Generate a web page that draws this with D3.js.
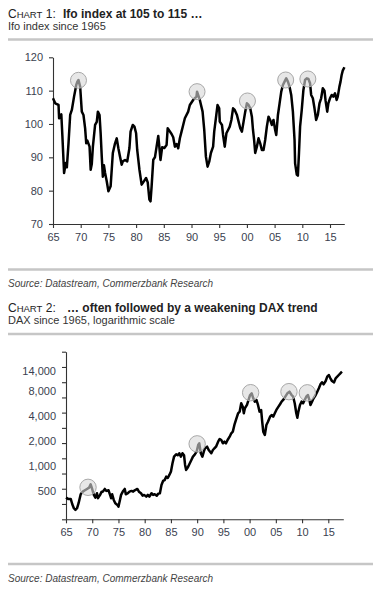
<!DOCTYPE html>
<html>
<head>
<meta charset="utf-8">
<script src="https://cdn.jsdelivr.net/npm/d3@7"></script>
<style>
  html, body { margin: 0; padding: 0; background: #fff; }
  svg { display: block; font-family: "Liberation Sans", Arial, sans-serif; }
</style>
</head>
<body>
<svg id="chart" width="379" height="600"></svg>
<script>
// ---------- DATA ----------
const ifoYears = [1965.0,1965.4,1966.0,1966.1,1966.5,1966.7,1967.0,1967.3,1967.5,1967.8,1968.1,1968.4,1968.8,1969.2,1969.4,1969.6,1969.9,1970.2,1970.5,1970.8,1971.0,1971.2,1971.6,1971.8,1972.0,1972.2,1972.6,1972.9,1973.1,1973.4,1973.6,1973.8,1974.0,1974.2,1974.4,1974.7,1975.0,1975.4,1975.8,1976.2,1976.5,1976.8,1977.1,1977.4,1977.6,1978.0,1978.4,1978.8,1979.0,1979.4,1979.7,1980.0,1980.2,1980.6,1981.0,1981.4,1981.8,1982.1,1982.4,1982.6,1982.8,1983.1,1983.4,1983.7,1984.0,1984.2,1984.4,1984.7,1985.1,1985.5,1985.7,1986.0,1986.4,1986.7,1987.0,1987.3,1987.6,1987.9,1988.2,1988.5,1988.8,1989.4,1989.7,1990.3,1990.9,1991.0,1991.5,1992.0,1992.3,1992.6,1992.9,1993.2,1993.5,1993.9,1994.1,1994.4,1994.7,1995.0,1995.1,1995.5,1995.7,1996.0,1996.3,1996.6,1996.9,1997.2,1997.5,1997.8,1998.2,1998.5,1998.8,1999.1,1999.4,1999.7,2000.0,2000.3,2000.6,2000.9,2001.1,2001.3,2001.5,2001.8,2002.1,2002.4,2002.7,2003.0,2003.3,2003.6,2003.9,2004.2,2004.5,2004.8,2005.1,2005.3,2005.6,2005.9,2006.2,2006.5,2006.8,2007.1,2007.4,2007.7,2008.0,2008.3,2008.6,2008.7,2009.0,2009.2,2009.4,2009.6,2009.9,2010.2,2010.5,2010.8,2011.1,2011.4,2011.6,2011.9,2012.2,2012.5,2012.8,2013.1,2013.4,2013.7,2014.0,2014.2,2014.5,2014.7,2015.0,2015.3,2015.6,2015.9,2016.2,2016.4,2016.7,2016.9,2017.1,2017.3,2017.6];
const ifoValues = [107.7,106.2,105.7,101.7,102.9,96.2,85.3,88.3,87.0,94.2,102.7,104.2,108.2,111.7,112.7,113.2,111.2,103.7,102.7,98.7,94.2,95.0,93.2,86.3,88.0,93.2,99.7,100.6,103.7,102.7,97.2,90.2,84.2,87.6,85.3,82.8,79.8,81.3,91.3,94.2,95.7,92.7,90.2,87.8,88.8,89.2,88.8,92.8,97.7,99.7,99.2,97.2,92.2,86.3,81.8,82.8,83.8,82.5,77.3,76.8,81.3,89.3,90.0,93.2,96.4,93.0,89.2,93.0,92.8,93.7,98.7,98.0,97.0,96.0,93.2,94.0,92.7,95.7,97.7,99.7,101.7,103.7,105.7,107.2,108.2,109.7,107.2,103.7,98.2,90.2,87.2,88.7,91.3,93.2,97.7,101.7,105.7,104.7,100.7,99.7,96.7,93.2,97.2,98.2,99.2,101.2,104.7,104.2,102.7,100.7,98.7,97.7,100.7,103.7,106.2,105.7,104.7,102.2,98.2,95.2,91.3,93.2,95.7,94.2,92.2,92.2,95.2,99.2,102.2,101.2,99.7,101.2,98.2,96.7,102.7,106.2,109.7,111.7,112.7,113.7,112.7,111.2,108.7,103.7,95.2,88.2,84.8,84.5,91.3,99.2,104.2,110.2,113.2,113.7,113.5,112.2,108.7,107.7,104.7,101.2,102.7,106.2,107.7,110.7,110.0,107.0,103.7,106.2,107.7,108.7,108.2,109.2,107.2,108.2,111.2,112.7,114.7,116.0,117.0];
const ifoPeakYears = [1969.6, 1991.0, 2000.1, 2007.0, 2011.0];
const ifoPeakValues = [113.1, 109.7, 106.9, 113.2, 113.5];
const ifoYTicks = [70, 80, 90, 100, 110, 120];

const daxYears = [1965.0,1965.4,1965.9,1966.2,1966.5,1966.8,1967.1,1967.4,1967.8,1968.2,1968.6,1969.0,1969.4,1969.7,1970.0,1970.3,1970.6,1970.9,1971.1,1971.5,1971.8,1972.0,1972.4,1972.7,1973.1,1973.4,1973.6,1973.8,1974.1,1974.4,1974.8,1975.0,1975.2,1975.5,1975.9,1976.2,1976.4,1976.8,1977.1,1977.5,1977.8,1978.1,1978.6,1978.9,1979.3,1979.6,1979.9,1980.3,1980.6,1980.9,1981.3,1981.6,1981.9,1982.3,1982.6,1982.9,1983.2,1983.5,1983.8,1984.1,1984.4,1984.7,1985.0,1985.3,1985.6,1986.0,1986.3,1986.6,1986.9,1987.2,1987.5,1987.7,1987.9,1988.2,1988.6,1988.9,1989.2,1989.5,1989.9,1990.2,1990.4,1990.7,1991.0,1991.3,1991.5,1991.9,1992.2,1992.7,1993.0,1993.3,1993.6,1994.0,1994.3,1994.6,1994.9,1995.2,1995.5,1995.8,1996.2,1996.5,1996.8,1997.1,1997.4,1997.8,1998.1,1998.4,1998.7,1998.9,1999.1,1999.5,1999.8,2000.1,2000.4,2000.7,2001.0,2001.3,2001.6,2001.9,2002.2,2002.4,2002.6,2002.9,2003.2,2003.5,2003.9,2004.2,2004.5,2004.8,2005.1,2005.5,2005.8,2006.1,2006.4,2006.8,2007.2,2007.6,2008.0,2008.3,2008.6,2008.9,2009.1,2009.3,2009.6,2009.9,2010.2,2010.5,2010.8,2011.1,2011.4,2011.6,2011.9,2012.2,2012.6,2012.9,2013.2,2013.5,2013.8,2014.1,2014.5,2014.8,2015.1,2015.4,2015.7,2016.1,2016.4,2016.7,2017.0,2017.3,2017.6];
const daxValues = [412,397,397,342,306,292,306,352,452,486,505,524,543,597,520,444,412,465,405,444,486,486,524,496,505,444,405,452,386,352,336,320,365,444,496,524,452,465,486,496,486,505,524,486,465,435,444,423,444,423,465,444,452,435,460,465,586,655,670,738,710,774,848,1072,1288,1376,1340,1416,1288,1416,1340,1022,890,950,1072,1175,1288,1351,1480,1784,1868,1416,1288,1500,1628,1700,1550,1416,1550,1628,1700,1956,2108,2050,1868,1956,1868,2050,2248,2470,2585,3115,3580,4310,4510,5696,5180,4310,4955,5435,6245,7175,7520,6540,5955,6245,5435,4510,4700,3410,2585,2357,3115,3410,3920,4110,3920,4310,4730,5180,5540,5955,6245,6845,7520,7870,7175,6845,5696,4310,3815,4510,5435,5955,5696,6245,6845,7175,6245,5435,5955,6540,7175,7870,8640,9650,10200,9650,10590,11940,12520,11420,10590,10200,11420,11940,12520,13130,13740];
const daxPeakYears = [1969.2, 1990.0, 2000.2, 2007.5, 2011.0];
const daxPeakValues = [548, 1840, 7650, 7870, 7620];
const daxLabelValues = [500, 1000, 2000, 4000, 8000, 14000];
const daxTickMarks = [225, 345, 527, 805, 1230, 1880, 2870, 4390, 6700, 10240, 15650, 23950];

const xTickYears = [1965, 1970, 1975, 1980, 1985, 1990, 1995, 2000, 2005, 2010, 2015];

// ---------- DRAW ----------
const svg = d3.select("#chart");
const fmtYear = d => String(d % 100).padStart(2, "0");
const tickColor = "#3b3f50";

function header(y0, num, bold, sub, boldX) {
  const t = svg.append("text").attr("x", 8).attr("y", y0).attr("fill", "#222").attr("font-size", 12);
  t.append("tspan").text("C");
  t.append("tspan").attr("font-size", 9.5).text("HART");
  t.append("tspan").text(" " + num + ":");
  t.append("tspan").attr("x", boldX).attr("font-weight", "bold").text(bold);
  svg.append("text").attr("x", 8).attr("y", y0 + 12.8).attr("fill", "#333").attr("font-size", 11).text(sub);
}
function sep(y) {
  svg.append("line").attr("x1", 8).attr("x2", 373).attr("y1", y).attr("y2", y)
    .attr("stroke", "#c6c6c6").attr("stroke-width", 2.6);
}
function source(y) {
  svg.append("text").attr("x", 8).attr("y", y).attr("fill", "#444").attr("font-size", 10)
    .attr("font-style", "italic").text("Source: Datastream, Commerzbank Research");
}
function styleAxis(g) {
  g.selectAll("path.domain").attr("stroke", "#333").attr("stroke-width", 1.1);
  g.selectAll(".tick line").attr("stroke", "#333").attr("stroke-width", 1.1);
  g.selectAll(".tick text").attr("fill", tickColor).attr("font-size", 11)
    .attr("font-family", "Liberation Sans, Arial, sans-serif");
}

// ----- Chart 1 -----
header(17.5, "1", "Ifo index at 105 to 115 \u2026", "Ifo index since 1965", 63);
sep(39.5);

const x1 = d3.scaleLinear().domain([1965, 2017.58]).range([53, 344.3]);
const y1 = d3.scaleLinear().domain([70, 120]).range([224, 57.3]);

const gx1 = svg.append("g").attr("transform", "translate(0,224)")
  .call(d3.axisBottom(x1).tickValues(xTickYears).tickFormat(fmtYear).tickSize(4).tickSizeOuter(0).tickPadding(5));
styleAxis(gx1);
const gy1 = svg.append("g").attr("transform", "translate(53,0)")
  .call(d3.axisLeft(y1).tickValues(ifoYTicks).tickSize(4).tickSizeOuter(0).tickPadding(6));
styleAxis(gy1);

const ifoData = ifoYears.map((yr, i) => ({ x: yr, y: ifoValues[i] }));
svg.append("path").datum(ifoData)
  .attr("fill", "none").attr("stroke", "#000").attr("stroke-width", 2.5)
  .attr("stroke-linejoin", "round")
  .attr("d", d3.line().x(d => x1(d.x)).y(d => y1(d.y)));

svg.append("g").selectAll("circle").data(ifoPeakYears).join("circle")
  .attr("cx", d => x1(d)).attr("cy", (d, i) => y1(ifoPeakValues[i])).attr("r", 8)
  .attr("fill", "rgba(215,215,215,0.6)").attr("stroke", "#a8a8a8").attr("stroke-width", 1);

sep(269.5);
source(286.5);

// ----- Chart 2 -----
header(311.5, "2", "\u2026 often followed by a weakening DAX trend", "DAX since 1965, logarithmic scale", 67);
sep(334);

const x2 = d3.scaleLinear().domain([1965, 2017.86]).range([66, 343.3]);
const y2 = d3.scaleLog().domain([225, 23950]).range([519.3, 351.7]);

const gx2 = svg.append("g").attr("transform", "translate(0,519.3)")
  .call(d3.axisBottom(x2).tickValues(xTickYears).tickFormat(fmtYear).tickSize(4).tickSizeOuter(0).tickPadding(5));
styleAxis(gx2);
const gy2 = svg.append("g").attr("transform", "translate(66,0)")
  .call(d3.axisLeft(y2).tickValues(daxTickMarks).tickFormat("").tickSize(4).tickSizeOuter(0));
styleAxis(gy2);
const gy2l = svg.append("g").attr("transform", "translate(66,0)")
  .call(d3.axisLeft(y2).tickValues(daxLabelValues).tickFormat(d3.format(",")).tickSize(0).tickPadding(10));
gy2l.select("path.domain").remove();
styleAxis(gy2l);

const daxData = daxYears.map((yr, i) => ({ x: yr, y: daxValues[i] }));
svg.append("path").datum(daxData)
  .attr("fill", "none").attr("stroke", "#000").attr("stroke-width", 2.5)
  .attr("stroke-linejoin", "round")
  .attr("d", d3.line().x(d => x2(d.x)).y(d => y2(d.y)));

svg.append("g").selectAll("circle").data(daxPeakYears).join("circle")
  .attr("cx", d => x2(d)).attr("cy", (d, i) => y2(daxPeakValues[i])).attr("r", 8.2)
  .attr("fill", "rgba(215,215,215,0.6)").attr("stroke", "#a8a8a8").attr("stroke-width", 1);

sep(564);
source(581.5);
</script>
</body>
</html>
